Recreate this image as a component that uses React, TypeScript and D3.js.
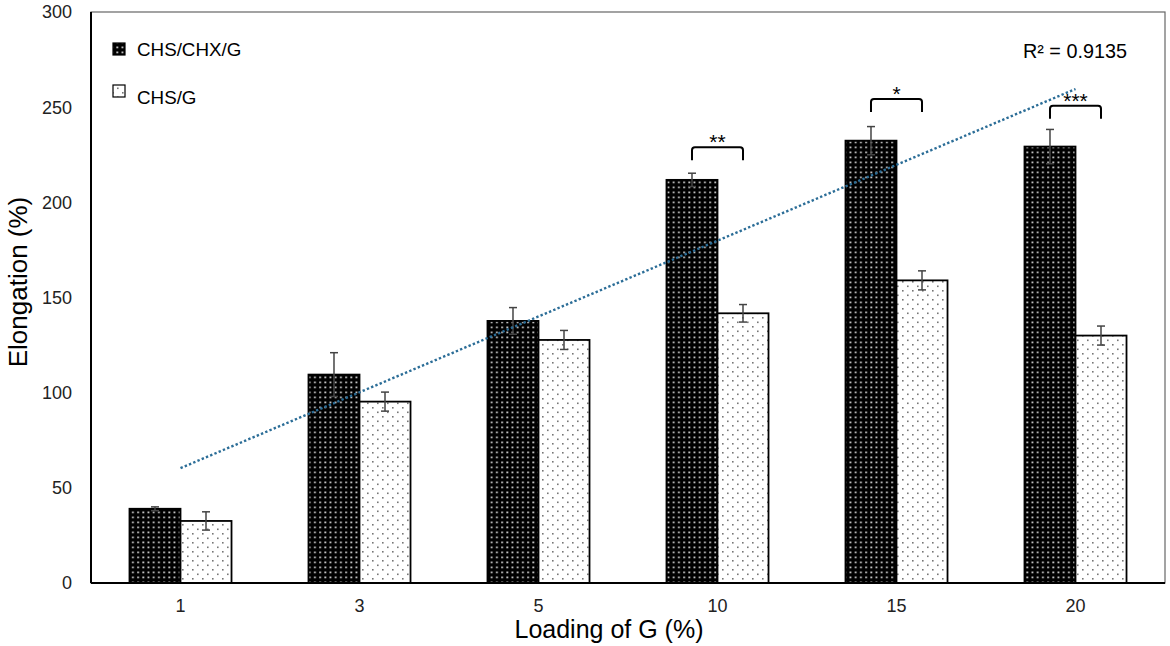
import { useEffect, useRef } from "react";
import * as d3 from "d3";

// Loading of G (%) categories
const categories = ["1", "3", "5", "10", "15", "20"];
const seriesNames = ["CHS/CHX/G", "CHS/G"];

// Elongation (%)
const chsChxG = [39, 109.5, 137.7, 211.8, 232.4, 229.3];
const chsChxGErr = [1, 11.5, 7, 3.5, 7.4, 9];
const chsG = [32.6, 95.3, 127.7, 141.7, 159, 130];
const chsGErr = [4.8, 5, 5, 4.6, 5, 5];

// significance brackets (category, level in % units, stars)
const sigCats = ["10", "15", "20"];
const sigLevels = [229, 254.3, 250.7];
const sigStars = ["**", "*", "***"];

const yTicks = [0, 50, 100, 150, 200, 250, 300];
const r2Label = "R² = 0.9135";

const FONT = "'Liberation Sans', Arial, sans-serif";

const App = () => {
  const svgRef = useRef<SVGSVGElement>(null);

  useEffect(() => {
    document.body.style.margin = "0";
    if (!svgRef.current) return;
    d3.select(svgRef.current).selectAll("*").remove();

    const width = 1170;
    const height = 646;
    const margin = { top: 12, right: 5, bottom: 63, left: 91 };

    const svg = d3.select(svgRef.current)
      .attr("width", width)
      .attr("height", height)
      .attr("viewBox", `0 0 ${width} ${height}`)
      .style("display", "block")
      .style("font-family", FONT);

    svg.append("rect").attr("width", width).attr("height", height).attr("fill", "#fff");

    // patterns
    const defs = svg.append("defs");
    const darkP = defs.append("pattern")
      .attr("id", "darkDots")
      .attr("patternUnits", "userSpaceOnUse")
      .attr("width", 5.2).attr("height", 5);
    darkP.append("rect").attr("width", 5.2).attr("height", 5).attr("fill", "#000");
    darkP.append("rect").attr("x", 2).attr("y", 1.5).attr("width", 1.8).attr("height", 1.8).attr("fill", "#c8c8c8");

    const lightP = defs.append("pattern")
      .attr("id", "lightDots")
      .attr("patternUnits", "userSpaceOnUse")
      .attr("width", 10).attr("height", 9);
    lightP.append("rect").attr("width", 10).attr("height", 9).attr("fill", "#fff");
    lightP.append("rect").attr("x", 2).attr("y", 2).attr("width", 1.6).attr("height", 1.6).attr("fill", "#777");
    lightP.append("rect").attr("x", 7).attr("y", 6.5).attr("width", 1.6).attr("height", 1.6).attr("fill", "#777");

    const x0 = d3.scaleBand<string>()
      .domain(categories)
      .range([margin.left, width - margin.right])
      .paddingInner(0.43)
      .paddingOuter(0.215);
    const x1 = d3.scaleBand<string>()
      .domain(seriesNames)
      .range([0, x0.bandwidth()]);
    const y = d3.scaleLinear().domain([0, 300]).range([height - margin.bottom, margin.top]);

    // frame
    svg.append("rect")
      .attr("x", margin.left).attr("y", margin.top)
      .attr("width", width - margin.right - margin.left)
      .attr("height", y(0) - margin.top)
      .attr("fill", "none").attr("stroke", "#666").attr("stroke-width", 1.2);

    // y tick labels
    svg.append("g").selectAll("text")
      .data(yTicks)
      .join("text")
      .attr("x", 72)
      .attr("y", d => y(d))
      .attr("dy", "0.36em")
      .attr("text-anchor", "end")
      .style("font-size", "18px")
      .style("fill", "#222")
      .text(d => d);

    // x tick labels
    svg.append("g").selectAll("text")
      .data(categories)
      .join("text")
      .attr("x", d => x0(d)! + x0.bandwidth() / 2)
      .attr("y", 612)
      .attr("text-anchor", "middle")
      .style("font-size", "18px")
      .style("fill", "#222")
      .text(d => d);

    const series = [
      { name: seriesNames[0], values: chsChxG, errs: chsChxGErr, fill: "url(#darkDots)" },
      { name: seriesNames[1], values: chsG, errs: chsGErr, fill: "url(#lightDots)" },
    ];

    series.forEach(s => {
      const g = svg.append("g");
      g.selectAll("rect")
        .data(categories)
        .join("rect")
        .attr("x", d => x0(d)! + x1(s.name)!)
        .attr("y", (d, i) => y(s.values[i]))
        .attr("width", x1.bandwidth())
        .attr("height", (d, i) => y(0) - y(s.values[i]))
        .attr("fill", s.fill)
        .attr("stroke", "#000")
        .attr("stroke-width", 1.8);

      // error bars
      const eb = svg.append("g").attr("stroke", "#444").attr("stroke-width", 1.5);
      categories.forEach((c, i) => {
        const cx = x0(c)! + x1(s.name)! + x1.bandwidth() / 2;
        const hi = y(s.values[i] + s.errs[i]);
        const lo = y(s.values[i] - s.errs[i]);
        eb.append("line").attr("x1", cx).attr("x2", cx).attr("y1", hi).attr("y2", lo);
        eb.append("line").attr("x1", cx - 4).attr("x2", cx + 4).attr("y1", hi).attr("y2", hi);
        eb.append("line").attr("x1", cx - 4).attr("x2", cx + 4).attr("y1", lo).attr("y2", lo);
      });
    });

    // axes lines
    svg.append("line")
      .attr("x1", margin.left).attr("x2", margin.left)
      .attr("y1", margin.top).attr("y2", y(0))
      .attr("stroke", "#000").attr("stroke-width", 2);
    svg.append("line")
      .attr("x1", margin.left).attr("x2", width - margin.right)
      .attr("y1", y(0)).attr("y2", y(0))
      .attr("stroke", "#000").attr("stroke-width", 2);

    // linear trendline of CHS/CHX/G over category index
    const xs = chsChxG.map((_, i) => i + 1);
    const mx = d3.mean(xs)!;
    const my = d3.mean(chsChxG)!;
    const slope = d3.sum(xs, (xv, i) => (xv - mx) * (chsChxG[i] - my)) / d3.sum(xs, xv => (xv - mx) ** 2);
    const intercept = my - slope * mx;
    const trend = [1, categories.length].map(k => ({
      px: x0(categories[k - 1])! + x0.bandwidth() / 2,
      py: y(intercept + slope * k),
    }));
    svg.append("path")
      .attr("d", d3.line<{ px: number; py: number }>().x(d => d.px).y(d => d.py)(trend)!)
      .attr("fill", "none")
      .attr("stroke", "#2b6d97")
      .attr("stroke-width", 2.4)
      .attr("stroke-dasharray", "2.4,2.2");

    // significance brackets
    const br = svg.append("g");
    sigCats.forEach((c, i) => {
      const xa = x0(c)! + x1(seriesNames[0])! + x1.bandwidth() / 2;
      const xb = x0(c)! + x1(seriesNames[1])! + x1.bandwidth() / 2;
      const top = y(sigLevels[i]);
      const leg = 13;
      const r = 3;
      br.append("path")
        .attr("d", `M${xa},${top + leg} L${xa},${top + r} Q${xa},${top} ${xa + r},${top} L${xb - r},${top} Q${xb},${top} ${xb},${top + r} L${xb},${top + leg}`)
        .attr("fill", "none")
        .attr("stroke", "#000")
        .attr("stroke-width", 2);
      br.append("text")
        .attr("x", (xa + xb) / 2)
        .attr("y", top + 2)
        .attr("text-anchor", "middle")
        .style("font-size", "21px")
        .style("fill", "#000")
        .text(sigStars[i]);
    });

    // legend
    const legend = svg.append("g");
    const legendY = [43, 85];
    const legendTextY = [56, 104];
    series.forEach((s, i) => {
      legend.append("rect")
        .attr("x", 113).attr("y", legendY[i])
        .attr("width", 12).attr("height", 12)
        .attr("fill", s.fill)
        .attr("stroke", "#000")
        .attr("stroke-width", 1.2);
      legend.append("text")
        .attr("x", 137).attr("y", legendTextY[i])
        .style("font-size", "18.8px")
        .style("fill", "#000")
        .text(s.name);
    });

    svg.append("text")
      .attr("x", 1023).attr("y", 58)
      .style("font-size", "19.8px")
      .style("fill", "#000")
      .text(r2Label);

    // axis titles
    svg.append("text")
      .attr("transform", `translate(27,282) rotate(-90)`)
      .attr("text-anchor", "middle")
      .style("font-size", "26px")
      .style("fill", "#000")
      .text("Elongation (%)");

    svg.append("text")
      .attr("x", 609).attr("y", 638)
      .attr("text-anchor", "middle")
      .style("font-size", "25px")
      .style("fill", "#000")
      .text("Loading of G (%)");
  }, []);

  return <svg ref={svgRef}></svg>;
};

export default App;
